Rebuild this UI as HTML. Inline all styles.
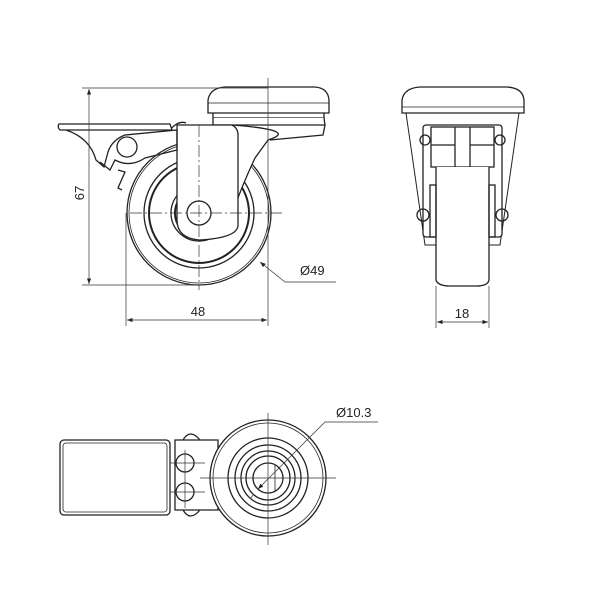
<!DOCTYPE html>
<html><head><meta charset="utf-8"><style>body{margin:0;background:#fff}svg{display:block}</style></head><body>
<svg width="600" height="600" viewBox="0 0 600 600" xmlns="http://www.w3.org/2000/svg" font-family="Liberation Sans, sans-serif">
<defs><marker id="a" markerWidth="8" markerHeight="6" refX="8" refY="3" orient="auto-start-reverse"><path d="M0,0 L8,3 L0,6z" fill="#222"/></marker></defs>
<g fill="none" stroke="#222" stroke-width="1.3">
<!-- SIDE VIEW -->
<circle cx="199" cy="213" r="72"/><circle cx="199" cy="213" r="70" stroke-width="0.8"/>
<circle cx="199" cy="213" r="55"/><circle cx="199" cy="213" r="50" stroke-width="2"/>
<circle cx="199" cy="213" r="28"/><circle cx="199" cy="213" r="24" stroke-width="2"/>
<path d="M208,113 L208,100 Q210,88 225,87 L315,87 Q328,88 329,100 L329,113 Z" fill="#fff"/>
<line x1="208" y1="103" x2="329" y2="103" stroke-width="0.8"/>
<path d="M213,113 L213,118 L324,118 L324,113"/>
<path d="M213,118 L213,125 L325,125 L324,118" fill="#fff"/>
<path d="M232,125 Q300,130 268,140 L255,158 Q240,190 232,215" fill="#fff"/>
<path d="M325,125 L323,135 L270,140" />
<path d="M177,125 L232,125 Q238,128 238,135 L238,225 Q238,238 199,240 Q177,238 177,220 Z" fill="#fff"/>
<path d="M170,130 Q178,120 186,123"/>
<circle cx="199" cy="213" r="12" fill="#fff"/>
<path d="M59,124 L170,124 L172,130 L60,130 Q57,127 59,124Z" fill="#fff"/>
<path d="M66,130 Q90,138 96,160 L104,167 L108,152 Q112,140 125,135 L177,130 L177,150 L145,158 Q130,168 115,160 L110,170 L100,162"/>
<circle cx="127" cy="147" r="10" fill="#fff"/>
<path d="M118,170 L125,172 L118,188 L122,190"/>
</g>
<g fill="none" stroke="#333" stroke-width="0.7">
<line x1="268" y1="78" x2="268" y2="326"/>
<line x1="126" y1="213" x2="126" y2="326"/>
<line x1="82" y1="88" x2="268" y2="88"/>
<line x1="82" y1="285" x2="200" y2="285"/>
<line x1="130" y1="213" x2="282" y2="213" stroke-dasharray="12,3,2,3"/>
<line x1="199" y1="125" x2="199" y2="290" stroke-dasharray="12,3,2,3"/>
<line x1="89" y1="89" x2="89" y2="284" marker-start="url(#a)" marker-end="url(#a)"/>
<line x1="127" y1="320" x2="267" y2="320" marker-start="url(#a)" marker-end="url(#a)"/>
<polyline points="336,282 285,282 260,262" marker-end="url(#a)"/>
<line x1="436" y1="286" x2="436" y2="328"/><line x1="489" y1="286" x2="489" y2="328"/>
<line x1="437" y1="322" x2="488" y2="322" marker-start="url(#a)" marker-end="url(#a)"/>
</g>
<g fill="#222" font-size="13">
<text x="84" y="193" transform="rotate(-90 84 193)" text-anchor="middle">67</text>
<text x="198" y="316" text-anchor="middle">48</text>
<text x="300" y="275">Ø49</text>
<text x="462" y="318" text-anchor="middle">18</text>
<text x="336" y="417">Ø10.3</text>
</g>
<g fill="none" stroke="#222" stroke-width="1.3">
<!-- FRONT VIEW -->
<path d="M406,113 L425,245 L500,245 L519,113" stroke-width="1"/>
<path d="M402,113 L402,100 Q404,88 420,87 L507,87 Q523,88 524,100 L524,113 Z" fill="#fff"/>
<line x1="402" y1="107" x2="524" y2="107" stroke-width="0.8"/>
<rect x="423" y="125" width="79" height="112" rx="3" fill="#fff"/>
<rect x="431" y="127" width="63" height="40" fill="#fff"/>
<line x1="455" y1="127" x2="455" y2="167"/><line x1="470" y1="127" x2="470" y2="167"/>
<line x1="431" y1="145" x2="455" y2="145"/><line x1="470" y1="145" x2="494" y2="145"/>
<rect x="442" y="175" width="40" height="8"/>
<path d="M436,167 L436,280 Q438,286 450,286 L476,286 Q488,286 489,280 L489,167" fill="#fff"/>
<rect x="430" y="185" width="6" height="52"/><rect x="489" y="185" width="6" height="52"/>
<circle cx="423" cy="215" r="6"/><circle cx="502" cy="215" r="6"/>
<circle cx="425" cy="140" r="5"/><circle cx="500" cy="140" r="5"/>
<!-- TOP VIEW -->
<rect x="60" y="440" width="110" height="75" rx="4"/>
<rect x="63" y="443" width="104" height="69" rx="3" stroke-width="0.8"/>
<path d="M175,440 L218,440 L218,510 L175,510 Z"/>
<path d="M183,440 Q190,428 200,440"/><path d="M183,510 Q190,522 200,510"/>
<circle cx="185" cy="463" r="9"/><circle cx="185" cy="492" r="9"/>
<circle cx="268" cy="478" r="58" fill="#fff"/><circle cx="268" cy="478" r="55" stroke-width="0.8"/>
<circle cx="268" cy="478" r="40"/><circle cx="268" cy="478" r="33"/>
<circle cx="268" cy="478" r="27"/><circle cx="268" cy="478" r="22"/>
<circle cx="268" cy="478" r="15"/>
<line x1="275" y1="465" x2="275" y2="491" stroke-width="0.8"/>
</g>
<g fill="none" stroke="#333" stroke-width="0.7">
<line x1="268" y1="413" x2="268" y2="545"/><line x1="200" y1="478" x2="336" y2="478"/>
<line x1="170" y1="463" x2="205" y2="463"/><line x1="170" y1="492" x2="205" y2="492"/>
<line x1="185" y1="450" x2="185" y2="508"/>
<polyline points="378,422 325,422 258,489" marker-end="url(#a)"/>
<line x1="250" y1="499" x2="254" y2="494"/>
</g>
</svg>
</body></html>
